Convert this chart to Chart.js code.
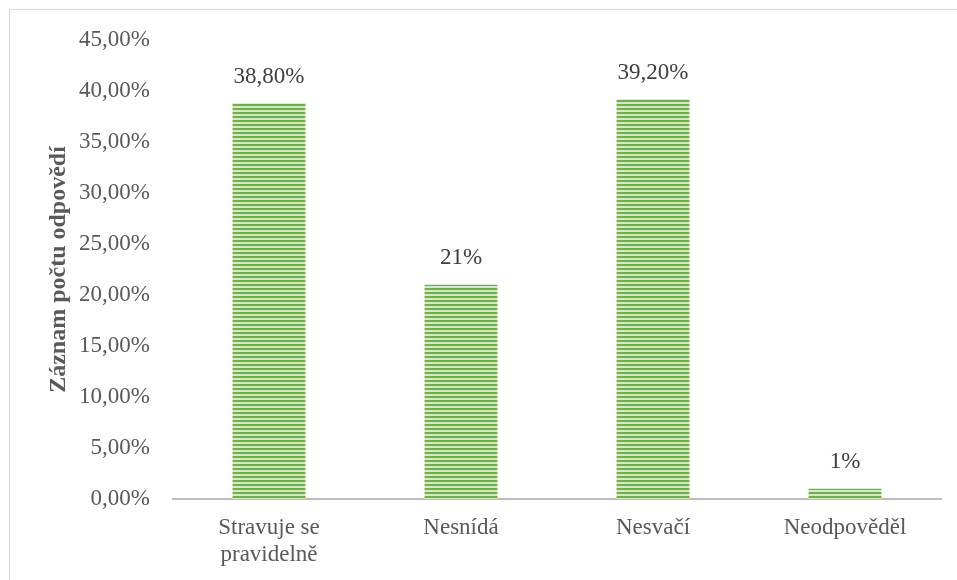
<!DOCTYPE html>
<html>
<head>
<meta charset="utf-8">
<script src="https://cdn.jsdelivr.net/npm/chart.js@4/dist/chart.umd.min.js"></script>
<style>
  html, body { margin: 0; padding: 0; background: #ffffff; }
  #wrap { width: 957px; height: 580px; position: relative; }
</style>
</head>
<body>
<div id="wrap"><canvas id="chart" width="957" height="580"></canvas></div>
<script>
// Survey categories and shares (percent)
const categories = [['Stravuje se', 'pravidelně'], 'Nesnídá', 'Nesvačí', 'Neodpověděl'];
const shares = [38.8, 21, 39.2, 1];
const shareLabels = ['38,80%', '21%', '39,20%', '1%'];
const axisTitle = 'Záznam počtu odpovědí';

// Horizontal-striped green fill for the bars
function stripeFill(ctx) {
  const tile = document.createElement('canvas');
  tile.width = 4; tile.height = 4;
  const t = tile.getContext('2d');
  t.fillStyle = '#d3e9c4';
  t.fillRect(0, 0, 4, 4);
  t.fillStyle = '#6fb04a';
  t.fillRect(0, 0, 4, 2);
  return ctx.createPattern(tile, 'repeat');
}

const canvas = document.getElementById('chart');
const ctx = canvas.getContext('2d');

// Thin frame around the chart
const framePlugin = {
  id: 'frame',
  beforeDraw(chart) {
    const c = chart.ctx;
    c.save();
    c.fillStyle = '#ffffff';
    c.fillRect(0, 0, chart.width, chart.height);
    c.strokeStyle = '#d9d9d9';
    c.lineWidth = 1;
    c.strokeRect(9.5, 9.5, chart.width + 20, chart.height + 20);
    c.restore();
  }
};

// Value labels above each bar
const valueLabelPlugin = {
  id: 'valueLabels',
  afterDatasetsDraw(chart) {
    const c = chart.ctx;
    const meta = chart.getDatasetMeta(0);
    c.save();
    c.font = '23px "Liberation Serif", "Times New Roman", serif';
    c.fillStyle = '#404040';
    c.textAlign = 'center';
    c.textBaseline = 'bottom';
    meta.data.forEach((bar, i) => {
      c.fillText(shareLabels[i], bar.x, bar.y - 15);
    });
    c.restore();
  }
};

Chart.defaults.font.family = '"Liberation Serif", "Times New Roman", serif';

new Chart(ctx, {
  type: 'bar',
  data: {
    labels: categories,
    datasets: [{
      data: shares,
      backgroundColor: stripeFill(ctx),
      borderWidth: 0,
      categoryPercentage: 1,
      barPercentage: 0.38
    }]
  },
  options: {
    responsive: false,
    animation: false,
    layout: { padding: { top: 40, right: 16, bottom: 0, left: 0 } },
    plugins: {
      legend: { display: false },
      tooltip: { enabled: false }
    },
    scales: {
      x: {
        grid: { display: false, drawTicks: false },
        border: { display: true, color: '#bfbfbf', width: 2 },
        ticks: {
          color: '#595959',
          font: { size: 23, lineHeight: 1.15 },
          padding: 16,
          maxRotation: 0,
          autoSkip: false
        },
        afterFit(scale) { scale.height = 81; }
      },
      y: {
        min: 0,
        max: 45,
        grid: { display: false, drawTicks: false },
        border: { display: false },
        ticks: {
          stepSize: 5,
          color: '#595959',
          font: { size: 23 },
          padding: 23,
          callback: v => v.toFixed(2).replace('.', ',') + '%'
        },
        title: {
          display: true,
          text: axisTitle,
          color: '#595959',
          font: { size: 24, weight: 'bold' },
          padding: { top: 44, bottom: 0 }
        },
        afterFit(scale) { scale.width = 173; }
      }
    }
  },
  plugins: [framePlugin, valueLabelPlugin]
});
</script>
</body>
</html>
